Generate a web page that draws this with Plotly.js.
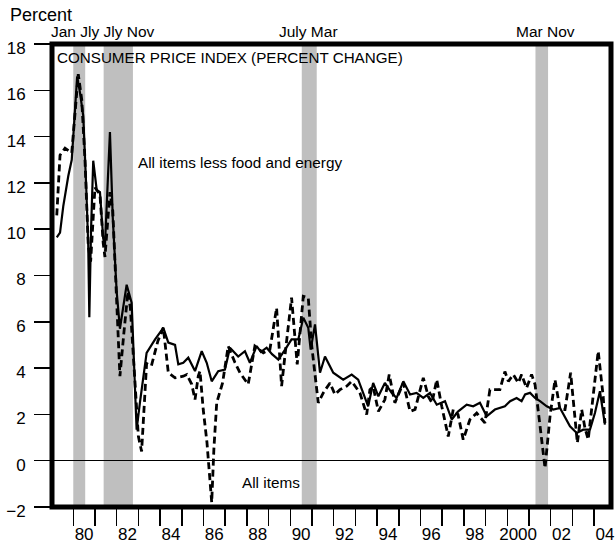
<!DOCTYPE html>
<html>
<head>
<meta charset="utf-8">
<script src="https://cdn.plot.ly/plotly-3.0.1.min.js"></script>
<style>
  html, body { margin: 0; padding: 0; background: #ffffff; }
  #chart { width: 616px; height: 548px; }
</style>
</head>
<body>
<div id="chart"></div>
<script>
// ---- Data (x = decimal year) ----
var coreDates = [
  1979.24, 1979.39, 1979.54, 1979.77, 1979.93, 1980.18, 1980.31, 1980.46, 1980.59, 1980.69,
  1980.74, 1980.82, 1980.92, 1981.08, 1981.23, 1981.38, 1981.46, 1981.55, 1981.69, 1981.82,
  1982.00, 1982.15, 1982.24, 1982.46, 1982.69, 1982.92, 1983.07, 1983.38, 1983.77, 1984.15,
  1984.38, 1984.69, 1984.84, 1985.07, 1985.30, 1985.61, 1985.92, 1986.15, 1986.38, 1986.68,
  1986.99, 1987.22, 1987.60, 1987.91, 1988.14, 1988.45, 1988.65, 1988.91, 1989.16, 1989.45,
  1989.76, 1990.06, 1990.37, 1990.60, 1990.83, 1990.94, 1991.14, 1991.37, 1991.60, 1991.98,
  1992.44, 1992.83, 1993.13, 1993.44, 1993.59, 1993.82, 1994.06, 1994.36, 1994.67, 1994.90,
  1995.21, 1995.52, 1995.82, 1996.13, 1996.44, 1996.75, 1997.13, 1997.44, 1997.74, 1998.13,
  1998.43, 1998.74, 1999.05, 1999.43, 1999.89, 2000.13, 2000.43, 2000.66, 2000.82, 2001.05,
  2001.28, 2001.51, 2001.82, 2002.12, 2002.43, 2002.89, 2003.20, 2003.50, 2003.81, 2004.04,
  2004.27, 2004.50
];
var coreValues = [
  9.65, 9.85, 11.0, 12.3, 13.0, 16.6, 15.9, 14.9, 12.0, 9.3,
  6.2, 10.0, 12.96, 11.7, 11.6, 9.6, 9.3, 11.0, 14.2, 10.5,
  7.3, 5.7, 6.3, 7.6, 6.83, 1.34, 2.5, 4.66, 5.24, 5.74,
  5.1, 5.0, 4.16, 4.23, 4.45, 3.87, 4.73, 4.23, 3.43, 3.87,
  3.94, 4.88, 4.5, 4.73, 4.23, 4.95, 4.7, 4.88, 4.6, 4.37,
  4.8, 5.24, 5.24, 6.18, 5.74, 4.8, 5.89, 3.8, 4.5, 3.8,
  3.5, 3.72, 3.5, 2.78, 2.35, 3.36, 2.78, 3.36, 2.93, 2.71,
  3.43, 2.86, 2.93, 2.71, 2.93, 2.42, 2.57, 1.78, 2.13, 2.42,
  2.35, 2.5, 1.92, 2.21, 2.35, 2.57, 2.71, 2.57, 2.86, 2.93,
  2.71, 2.57, 2.35, 2.21, 2.28, 1.49, 1.2, 1.34, 1.34, 2.06,
  3.0, 1.56
];

var allItemsDates = [
  1979.24, 1979.39, 1979.62, 1979.80, 1979.93, 1980.23, 1980.39, 1980.54, 1980.69, 1980.80,
  1981.00, 1981.23, 1981.38, 1981.46, 1981.69, 1981.82, 1982.00, 1982.15, 1982.33, 1982.52,
  1982.63, 1983.00, 1983.15, 1983.38, 1983.60, 1983.90, 1984.15, 1984.38, 1984.69, 1985.07,
  1985.23, 1985.46, 1985.61, 1985.76, 1985.84, 1985.99, 1986.16, 1986.38, 1986.48, 1986.61,
  1986.88, 1987.14, 1987.45, 1987.68, 1988.06, 1988.37, 1988.76, 1989.06, 1989.37, 1989.60,
  1989.75, 1990.06, 1990.32, 1990.60, 1990.83, 1990.99, 1991.29, 1991.52, 1991.83, 1992.06,
  1992.29, 1992.60, 1992.83, 1993.21, 1993.52, 1993.67, 1993.82, 1994.06, 1994.36, 1994.56,
  1994.82, 1995.21, 1995.52, 1995.75, 1996.13, 1996.36, 1996.53, 1996.75, 1996.98, 1997.28,
  1997.51, 1997.73, 1997.97, 1998.28, 1998.59, 1998.97, 1999.20, 1999.66, 1999.89, 2000.05,
  2000.28, 2000.51, 2000.66, 2000.89, 2001.12, 2001.28, 2001.51, 2001.74, 2001.97, 2002.20,
  2002.43, 2002.66, 2002.92, 2003.12, 2003.23, 2003.43, 2003.58, 2003.73, 2003.96, 2004.19,
  2004.42, 2004.50
];
var allItemsValues = [
  10.6, 13.2, 13.5, 13.4, 13.3, 16.7, 15.6, 13.0, 9.3, 8.6,
  11.8, 11.5, 9.4, 8.8, 11.6, 10.8, 7.0, 3.65, 5.5, 7.3,
  6.6, 1.05, 0.4, 4.2, 4.1, 5.17, 5.75, 3.8, 3.58, 3.65,
  3.72, 3.3, 2.64, 3.65, 3.87, 2.2, 0.8, -1.8, 0.5, 2.5,
  3.36, 4.95, 4.24, 3.8, 3.3, 4.95, 4.66, 4.8, 6.6, 3.22,
  4.5, 7.04, 4.16, 7.1, 7.04, 4.95, 2.5, 2.93, 3.36, 2.86,
  3.07, 3.22, 3.43, 2.93, 1.99, 3.07, 3.2, 2.13, 2.64, 3.72,
  2.5, 3.36, 2.13, 2.21, 3.58, 2.78, 2.5, 3.5, 2.35, 1.05,
  2.21, 2.0, 0.91, 1.78, 2.06, 1.63, 3.07, 3.07, 3.85, 3.43,
  3.72, 3.36, 3.72, 3.14, 3.72, 3.29, 1.5, -0.32, 1.92, 3.5,
  2.21, 2.21, 3.8, 1.63, 0.77, 2.21, 1.41, 0.91, 2.86, 4.73,
  2.78, 1.63
];

// Recession shading (decimal years)
var recessionStart = [1980.0, 1981.4, 1990.53, 2001.3];
var recessionEnd   = [1980.55, 1982.75, 1991.22, 2001.88];

// Tick labels
var labelYears = [1980, 1982, 1984, 1986, 1988, 1990, 1992, 1994, 1996, 1998, 2000, 2002, 2004];
var xTickText  = ['80', '82', '84', '86', '88', '90', '92', '94', '96', '98', '2000', '02', '04'];
var tickYears  = [1980, 1981, 1982, 1983, 1984, 1985, 1986, 1987, 1988, 1989, 1990, 1991, 1992,
                  1993, 1994, 1995, 1996, 1997, 1998, 1999, 2000, 2001, 2002, 2003, 2004];
var yTickVals  = [-2, 0, 2, 4, 6, 8, 10, 12, 14, 16, 18];
var yTickText  = ['\u22122', '0', '2', '4', '6', '8', '10', '12', '14', '16', '18'];

// Month labels above recessions: [text, center decimal year]
var monthLabelText = ['Jan Jly Jly Nov', 'July Mar', 'Mar Nov'];
var monthLabelX    = [1981.35, 1990.86, 2001.74];

var FONT = 'Liberation Sans, Arial, Helvetica, sans-serif';

var traces = [
  {
    x: allItemsDates, y: allItemsValues, type: 'scatter', mode: 'lines',
    line: {color: '#000000', width: 2.8, dash: '7px,4px'},
    hoverinfo: 'skip', name: 'All items'
  },
  {
    x: coreDates, y: coreValues, type: 'scatter', mode: 'lines',
    line: {color: '#000000', width: 2.2},
    hoverinfo: 'skip', name: 'All items less food and energy'
  }
];

var shapes = [];
for (var i = 0; i < recessionStart.length; i++) {
  shapes.push({
    type: 'rect', xref: 'x', yref: 'paper',
    x0: recessionStart[i], x1: recessionEnd[i], y0: 0, y1: 1,
    fillcolor: '#bfbfbf', line: {width: 0}, layer: 'below'
  });
}
// thick frame
shapes.push({
  type: 'rect', xref: 'paper', yref: 'paper', x0: 0, x1: 1, y0: 0, y1: 1,
  line: {color: '#000000', width: 5}, fillcolor: 'rgba(0,0,0,0)', layer: 'above'
});

var annotations = [
  {text: 'Percent', xref: 'paper', yref: 'paper', x: -0.079, y: 1.063,
   xanchor: 'left', yanchor: 'middle', showarrow: false,
   font: {family: FONT, size: 18, color: '#000'}},
  {text: 'CONSUMER PRICE INDEX (PERCENT CHANGE)', xref: 'paper', yref: 'paper',
   x: 0.005, y: 0.97, xanchor: 'left', yanchor: 'middle', showarrow: false,
   font: {family: FONT, size: 15.2, color: '#000'}},
  {text: 'All items less food and energy', xref: 'x', yref: 'y',
   x: 1982.89, y: 12.9, xanchor: 'left', yanchor: 'middle', showarrow: false,
   font: {family: FONT, size: 15.3, color: '#000'}},
  {text: 'All items', xref: 'x', yref: 'y',
   x: 1987.68, y: -0.95, xanchor: 'left', yanchor: 'middle', showarrow: false,
   font: {family: FONT, size: 15.3, color: '#000'}}
];
for (var j = 0; j < monthLabelText.length; j++) {
  annotations.push({
    text: monthLabelText[j], xref: 'x', yref: 'paper', x: monthLabelX[j], y: 1.026,
    xanchor: 'center', yanchor: 'middle', showarrow: false,
    font: {family: FONT, size: 15.5, color: '#000'}
  });
}

var layout = {
  width: 616, height: 548,
  margin: {l: 52, r: 5, t: 44, b: 41, pad: 0},
  paper_bgcolor: '#ffffff', plot_bgcolor: '#ffffff',
  showlegend: false,
  font: {family: FONT, color: '#000000'},
  xaxis: {
    range: [1979.02, 2004.78],
    tickmode: 'array',
    tickvals: labelYears.map(function (y) { return y + 0.5; }),
    ticktext: xTickText,
    ticks: '', showgrid: false, zeroline: false, showline: false,
    tickfont: {family: FONT, size: 17, color: '#000'},
    ticklabelstandoff: 15,
    minor: {
      tickmode: 'array', tickvals: tickYears,
      ticks: 'outside', ticklen: 18, tickwidth: 1.5, tickcolor: '#000',
      showgrid: false
    }
  },
  yaxis: {
    range: [-2, 18],
    tickmode: 'array', tickvals: yTickVals, ticktext: yTickText,
    ticks: 'outside', ticklen: 17, tickwidth: 1.5, tickcolor: '#000',
    showgrid: false, showline: false,
    zeroline: true, zerolinecolor: '#000000', zerolinewidth: 1,
    tickfont: {family: FONT, size: 17, color: '#000'},
    ticklabelstandoff: 5,
    ticklabelshift: 4
  },
  shapes: shapes,
  annotations: annotations
};

Plotly.newPlot('chart', traces, layout, {staticPlot: true, displayModeBar: false});
</script>
</body>
</html>
